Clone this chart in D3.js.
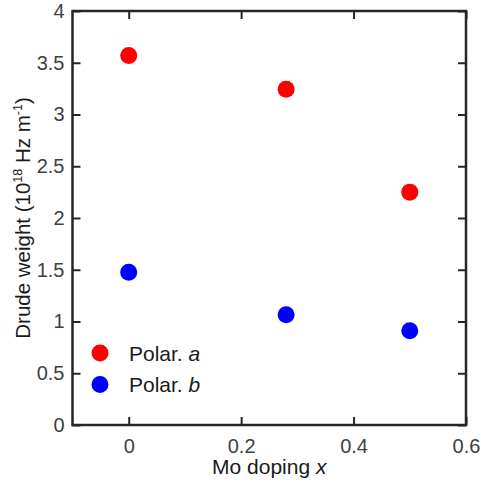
<!DOCTYPE html>
<html>
<head>
<meta charset="utf-8">
<script src="https://cdn.jsdelivr.net/npm/d3@7"></script>
<style>
  html, body { margin: 0; padding: 0; background: #fff; }
  svg { display: block; font-family: "Liberation Sans", Arial, sans-serif; }
</style>
</head>
<body>
<svg id="chart" width="481" height="484"></svg>
<script>
// Mo doping levels and Drude weights (10^18 Hz m^-1) for both polarizations
const doping = [0, 0.28, 0.5];
const polarA = [3.57, 3.245, 2.25];
const polarB = [1.475, 1.065, 0.91];
const xTicks = [0, 0.2, 0.4, 0.6];
const yTicks = [0, 0.5, 1, 1.5, 2, 2.5, 3, 3.5, 4];
const seriesNames = ["a", "b"];
const seriesColors = ["#ff0000", "#0000ff"];

const svg = d3.select("#chart");
const margin = { left: 72.5, right: 15, top: 11, bottom: 59 };
const W = 481, H = 484;

const x = d3.scaleLinear().domain([-0.1, 0.6]).range([margin.left, W - margin.right]);
const y = d3.scaleLinear().domain([0, 4]).range([H - margin.bottom, margin.top]);

const axisColor = "#262626";
const tickLabelColor = "#404040";
const textColor = "#1a1a1a";

// inward ticks on all four sides
const xAxisB = d3.axisBottom(x).tickValues(xTicks).tickSizeInner(-8).tickSizeOuter(0).tickPadding(14).tickFormat(d3.format("~g"));
const xAxisT = d3.axisTop(x).tickValues(xTicks).tickSizeInner(-8).tickSizeOuter(0).tickFormat("");
const yAxisL = d3.axisLeft(y).tickValues(yTicks).tickSizeInner(-8).tickSizeOuter(0).tickPadding(8).tickFormat(d3.format("~g"));
const yAxisR = d3.axisRight(y).tickValues(yTicks).tickSizeInner(-8).tickSizeOuter(0).tickFormat("");

function style(g) {
  g.attr("font-size", 20).attr("font-family", "'Liberation Sans', Arial, sans-serif");
  g.select(".domain").remove();
  g.selectAll(".tick line").attr("stroke", axisColor).attr("stroke-width", 2);
  g.selectAll(".tick text").attr("fill", tickLabelColor);
}

svg.append("g").attr("transform", `translate(0,${y(0)})`).call(xAxisB).call(style);
svg.append("g").attr("transform", `translate(0,${y(4)})`).call(xAxisT).call(style);
svg.append("g").attr("transform", `translate(${x(-0.1)},0)`).call(yAxisL).call(style);
svg.append("g").attr("transform", `translate(${x(0.6)},0)`).call(yAxisR).call(style);

// frame
svg.append("rect")
  .attr("x", x(-0.1)).attr("y", y(4))
  .attr("width", x(0.6) - x(-0.1)).attr("height", y(0) - y(4))
  .attr("fill", "none").attr("stroke", axisColor).attr("stroke-width", 2.5);

// data points
[polarA, polarB].forEach((vals, i) => {
  svg.append("g").selectAll("circle")
    .data(doping.map((d, j) => [d, vals[j]]))
    .join("circle")
    .attr("cx", d => x(d[0]))
    .attr("cy", d => y(d[1]))
    .attr("r", 8.5)
    .attr("fill", seriesColors[i]);
});

// legend
const legend = svg.append("g").attr("transform", `translate(100,353)`);
seriesNames.forEach((name, i) => {
  const row = legend.append("g").attr("transform", `translate(0,${i * 31.5})`);
  row.append("circle").attr("r", 8.5).attr("fill", seriesColors[i]);
  const t = row.append("text").attr("x", 29).attr("y", 7.5)
    .attr("fill", textColor).attr("font-size", 21);
  t.append("tspan").text("Polar. ");
  t.append("tspan").attr("font-style", "italic").text(name);
});

// x-axis title
const xt = svg.append("text")
  .attr("x", (x(-0.1) + x(0.6)) / 2).attr("y", 474)
  .attr("text-anchor", "middle").attr("fill", textColor).attr("font-size", 21);
xt.append("tspan").text("Mo doping ");
xt.append("tspan").attr("font-style", "italic").text("x");

// y-axis title
const yt = svg.append("text")
  .attr("transform", `translate(30,${(y(0) + y(4)) / 2}) rotate(-90)`)
  .attr("text-anchor", "middle").attr("fill", textColor).attr("font-size", 20.5);
yt.append("tspan").text("Drude weight (10");
yt.append("tspan").attr("dy", -8).attr("font-size", 12.5).text("18");
yt.append("tspan").attr("dy", 8).text(" Hz m");
yt.append("tspan").attr("dy", -8).attr("font-size", 12.5).text("-1");
yt.append("tspan").attr("dy", 8).text(")");
</script>
</body>
</html>
